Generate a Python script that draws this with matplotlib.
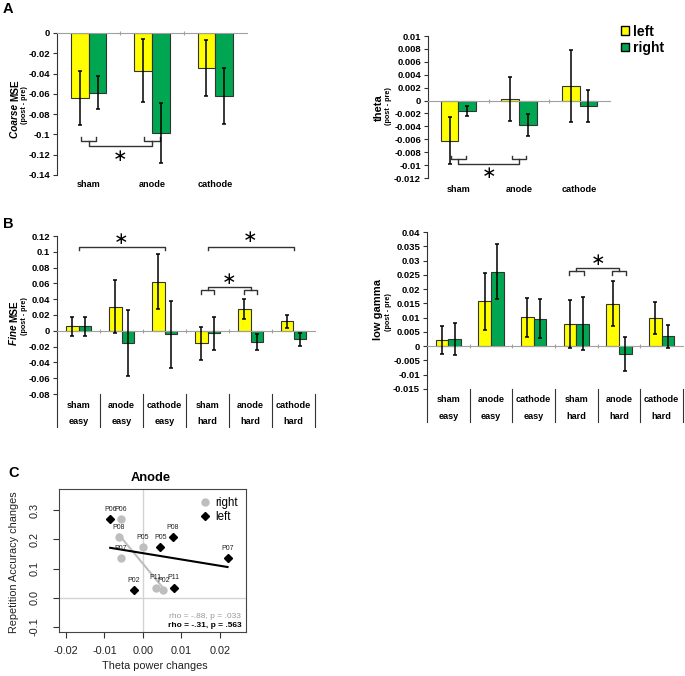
import numpy as np
import matplotlib.pyplot as plt
from matplotlib.patches import Patch
from matplotlib.lines import Line2D

plt.rcParams['font.family'] = ['Liberation Sans', 'DejaVu Sans']

YELLOW = '#FFFF00'
GREEN = '#00A651'

# ---- data ----
groups3 = ['sham', 'anode', 'cathode']
groups6 = ['sham', 'anode', 'cathode', 'sham', 'anode', 'cathode']
levels6 = ['easy', 'easy', 'easy', 'hard', 'hard', 'hard']

coarse_left = [-0.0644, -0.0371, -0.0348]
coarse_left_err = [0.0266, 0.0307, 0.0276]
coarse_right = [-0.0588, -0.0986, -0.0621]
coarse_right_err = [0.0165, 0.0293, 0.0273]

theta_left = [-0.0062, 0.0003, 0.0022]
theta_left_err = [0.0037, 0.0034, 0.0056]
theta_right = [-0.0016, -0.0038, -0.0008]
theta_right_err = [0.0008, 0.0017, 0.0025]

fine_left = [0.0059, 0.0307, 0.0623, -0.0160, 0.0278, 0.0118]
fine_left_err = [0.0120, 0.0330, 0.0343, 0.0210, 0.0130, 0.0088]
fine_right = [0.0055, -0.0152, -0.0046, -0.0034, -0.0139, -0.0110]
fine_right_err = [0.0120, 0.0415, 0.0420, 0.0215, 0.0100, 0.0085]

gamma_left = [0.0021, 0.0157, 0.0101, 0.0079, 0.0149, 0.0099]
gamma_left_err = [0.0050, 0.0100, 0.0069, 0.0084, 0.0080, 0.0056]
gamma_right = [0.0024, 0.0261, 0.0096, 0.0079, -0.0027, 0.0035]
gamma_right_err = [0.0056, 0.0097, 0.0068, 0.0092, 0.0060, 0.0040]

# panel C (anode): theta power change vs repetition accuracy change
subj_right = ['P06', 'P08', 'P07', 'P05', 'P11', 'P02']
theta_r = [-0.0058, -0.0063, -0.0058, 0.0000, 0.0033, 0.0053]
acc_r = [0.270, 0.208, 0.135, 0.173, 0.035, 0.027]
subj_left = ['P06', 'P05', 'P08', 'P07', 'P02', 'P11']
theta_l = [-0.0085, 0.0045, 0.0077, 0.0220, -0.0023, 0.0080]
acc_l = [0.270, 0.173, 0.208, 0.135, 0.027, 0.035]

W, H = 685, 676
fig = plt.figure(figsize=(W / 100, H / 100), dpi=100)


def px(x, y):
    return x / W, 1 - y / H


def rect(x0, y0, x1, y1):
    return [x0 / W, 1 - y1 / H, (x1 - x0) / W, (y1 - y0) / H]


def bar_panel(r, left, left_err, right, right_err, ylim, step, width):
    ax = fig.add_axes(r)
    x = np.arange(len(left))
    ax.bar(x - width / 2, left, width, color=YELLOW, edgecolor='#333333', linewidth=0.8, zorder=2)
    ax.bar(x + width / 2, right, width, color=GREEN, edgecolor='#333333', linewidth=0.8, zorder=2)
    ax.errorbar(x - width / 2, left, yerr=left_err, fmt='none', ecolor='black',
                elinewidth=1.1, capsize=1.5, capthick=1.1, zorder=4)
    ax.errorbar(x + width / 2, right, yerr=right_err, fmt='none', ecolor='black',
                elinewidth=1.1, capsize=1.5, capthick=1.1, zorder=4)
    ax.set_xlim(-0.5, len(left) - 0.5)
    ax.set_ylim(*ylim)
    ax.set_yticks(np.arange(ylim[0], ylim[1] + step / 2, step))
    ax.yaxis.set_major_formatter(lambda v, p: '%g' % (round(v, 4) + 0.0))
    ax.set_xticks(np.arange(0.5, len(left) - 0.5))
    ax.set_xticklabels([])
    ax.spines['top'].set_visible(False)
    ax.spines['right'].set_visible(False)
    ax.spines['left'].set_color('#333333')
    ax.spines['bottom'].set_position(('data', 0))
    ax.spines['bottom'].set_color('#a0a0a0')
    ax.tick_params(axis='y', labelsize=6.8, length=3, width=0.8, pad=2, color='#333333')
    ax.tick_params(axis='x', length=3, width=0.8, color='#a0a0a0', direction='inout')
    plt.setp(ax.get_yticklabels(), fontweight='bold')
    return ax


def star(ax, x, y):
    ax.text(x, y, '\u2217', fontsize=12.5, ha='center', va='center', family='DejaVu Sans')


def ylab(x, y, italic, plain, x2, y2, size):
    # italic part below, plain part above (rotated text reads bottom-up)
    if italic:
        fig.text(*px(x, y), italic + ' ', rotation=90, ha='center', va='top',
                 fontsize=size, fontweight='bold', style='italic')
        fig.text(*px(x, y), plain, rotation=90, ha='center', va='bottom',
                 fontsize=size, fontweight='bold')
    else:
        fig.text(*px(x, y), plain, rotation=90, ha='center', va='center',
                 fontsize=size, fontweight='bold')
    fig.text(*px(x2, y2), '(post - pre)', rotation=90, ha='center', va='center',
             fontsize=5.2, fontweight='bold')


BK = dict(color='#333333', lw=1.0, clip_on=False)

# ---- A left: coarse MSE ----
ax = bar_panel(rect(57, 33, 247, 175), coarse_left, coarse_left_err,
               coarse_right, coarse_right_err, (-0.14, 0), 0.02, 0.28)
for i, g in enumerate(groups3):
    ax.text(i, -0.07, g, transform=ax.get_xaxis_transform(), ha='center', va='center',
            fontsize=6.6, fontweight='bold')
for c in [0, 1]:
    ax.plot([c - 0.12, c - 0.12, c + 0.12, c + 0.12], [-0.103, -0.106, -0.106, -0.103], **BK)
ax.plot([0, 0, 1, 1], [-0.106, -0.1115, -0.1115, -0.106], **BK)
star(ax, 0.5, -0.121)
ylab(15, 101, 'Coarse', 'MSE', 24, 105, 7.2)

# ---- A right: theta ----
ax = bar_panel(rect(428, 36, 610, 178), theta_left, theta_left_err,
               theta_right, theta_right_err, (-0.012, 0.01), 0.002, 0.29)
for i, g in enumerate(groups3):
    ax.text(i, -0.078, g, transform=ax.get_xaxis_transform(), ha='center', va='center',
            fontsize=6.6, fontweight='bold')
for c in [0, 1]:
    ax.plot([c - 0.12, c - 0.12, c + 0.12, c + 0.12], [-0.0086, -0.0090, -0.0090, -0.0086], **BK)
ax.plot([0, 0, 1, 1], [-0.0090, -0.0099, -0.0099, -0.0090], **BK)
star(ax, 0.5, -0.0113)
ylab(379, 108, None, 'theta', 388, 106, 8)
fig.legend(handles=[Patch(facecolor=YELLOW, edgecolor='black'),
                    Patch(facecolor=GREEN, edgecolor='black')],
           labels=['left', 'right'], loc='upper left', bbox_to_anchor=px(611, 15),
           frameon=False, prop={'weight': 'bold', 'size': 10},
           handlelength=0.6, handleheight=0.6, handletextpad=0.3, labelspacing=0.15,
           borderpad=0.2)


def cat_axis(ax, y1, y2, ysep):
    tr = ax.get_xaxis_transform()
    for i in range(6):
        ax.text(i, y1, groups6[i], transform=tr, ha='center', va='center',
                fontsize=6.6, fontweight='bold')
        ax.text(i, y2, levels6[i], transform=tr, ha='center', va='center',
                fontsize=6.6, fontweight='bold')
    for s in np.arange(-0.5, 6):
        ax.plot([s, s], [0, ysep], transform=tr, color='#333333', lw=0.8, clip_on=False)


# ---- B left: fine MSE ----
ax = bar_panel(rect(57, 236, 315, 394), fine_left, fine_left_err,
               fine_right, fine_right_err, (-0.08, 0.12), 0.02, 0.3)
cat_axis(ax, -0.07, -0.171, -0.209)
ax.plot([0, 0, 2, 2], [0.102, 0.106, 0.106, 0.102], **BK)
star(ax, 1, 0.1166)
ax.plot([3, 3, 5, 5], [0.102, 0.106, 0.106, 0.102], **BK)
star(ax, 4, 0.1187)
for c in [3, 4]:
    ax.plot([c - 0.16, c - 0.16, c + 0.16, c + 0.16], [0.047, 0.0514, 0.0514, 0.047], **BK)
ax.plot([3, 3, 4, 4], [0.0514, 0.0556, 0.0556, 0.0514], **BK)
star(ax, 3.5, 0.0661)
ylab(14, 322, 'Fine', 'MSE', 24, 316, 7.2)

# ---- B right: low gamma ----
ax = bar_panel(rect(427, 232, 683, 389), gamma_left, gamma_left_err,
               gamma_right, gamma_right_err, (-0.015, 0.04), 0.005, 0.3)
cat_axis(ax, -0.07, -0.178, -0.21)
for c in [3, 4]:
    ax.plot([c - 0.17, c - 0.17, c + 0.17, c + 0.17], [0.0248, 0.0263, 0.0263, 0.0248], **BK)
ax.plot([3, 3, 4, 4], [0.0263, 0.0274, 0.0274, 0.0263], **BK)
star(ax, 3.5, 0.0301)
ylab(378, 310, None, 'low gamma', 388, 312, 8)

# ---- C: scatter ----
ax = fig.add_axes(rect(59, 489, 246, 632))
ax.axvline(0, color='#d3d3d3', lw=1, zorder=0)
ax.axhline(0, color='#d3d3d3', lw=1, zorder=0)
for xs, ys, col in [(theta_r, acc_r, '#bebebe'), (theta_l, acc_l, 'black')]:
    k, b = np.polyfit(xs, ys, 1)
    xx = np.array([min(xs), max(xs)])
    ax.plot(xx, k * xx + b, color=col, lw=1.5, zorder=1)
ax.plot(theta_r, acc_r, 'o', color='#bebebe', ms=5, zorder=2)
ax.plot(theta_l, acc_l, 'D', color='black', ms=3.6, zorder=3)
for names, xs, ys in [(subj_right, theta_r, acc_r), (subj_left, theta_l, acc_l)]:
    for n, xv, yv in zip(names, xs, ys):
        ax.annotate(n, (xv, yv), xytext=(0, 4.5), textcoords='offset points',
                    ha='center', va='bottom', fontsize=5, color='#222222')
ax.set_xlim(-0.0218, 0.0268)
ax.set_ylim(-0.117, 0.372)
ax.set_xticks([-0.02, -0.01, 0, 0.01, 0.02])
ax.set_xticklabels(['-0.02', '-0.01', '0.00', '0.01', '0.02'])
ax.set_yticks([-0.1, 0, 0.1, 0.2, 0.3])
ax.set_yticklabels(['-0.1', '0.0', '0.1', '0.2', '0.3'], rotation=90, va='center')
ax.tick_params(labelsize=7.8, length=4.3, width=0.8, color='#333333', labelcolor='#222222')
ax.tick_params(axis='x', pad=6)
ax.tick_params(axis='y', pad=10)
for s in ax.spines.values():
    s.set_color('#444444')
    s.set_linewidth(0.8)
ax.legend(handles=[Line2D([], [], marker='o', ls='none', color='#bebebe', ms=5),
                   Line2D([], [], marker='D', ls='none', color='black', ms=3.6)],
          labels=['right', 'left'], loc='upper right', frameon=False, fontsize=8.3,
          handlelength=1, handletextpad=0.4, labelspacing=0.2, borderaxespad=0.3)
ax.text(0.975, 0.105, 'rho = -.88, p = .033', transform=ax.transAxes, ha='right',
        va='center', fontsize=6, color='#999999')
ax.text(0.975, 0.042, 'rho = -.31, p = .563', transform=ax.transAxes, ha='right',
        va='center', fontsize=6, fontweight='bold')
fig.text(*px(151, 478), 'Anode', ha='center', va='center', fontsize=9.3, fontweight='bold')
fig.text(*px(155, 666), 'Theta power changes', ha='center', va='center', fontsize=7.8,
         color='#222222')
fig.text(*px(14, 562), 'Repetition Accuracy changes', rotation=90, ha='center',
         va='center', fontsize=7.8, color='#222222')

# panel letters
for letter, x, y in [('A', 8, 9), ('B', 8, 224), ('C', 14, 473)]:
    fig.text(*px(x, y), letter, ha='center', va='center', fontsize=10.5, fontweight='bold')

fig.savefig('out.png', dpi=100)
